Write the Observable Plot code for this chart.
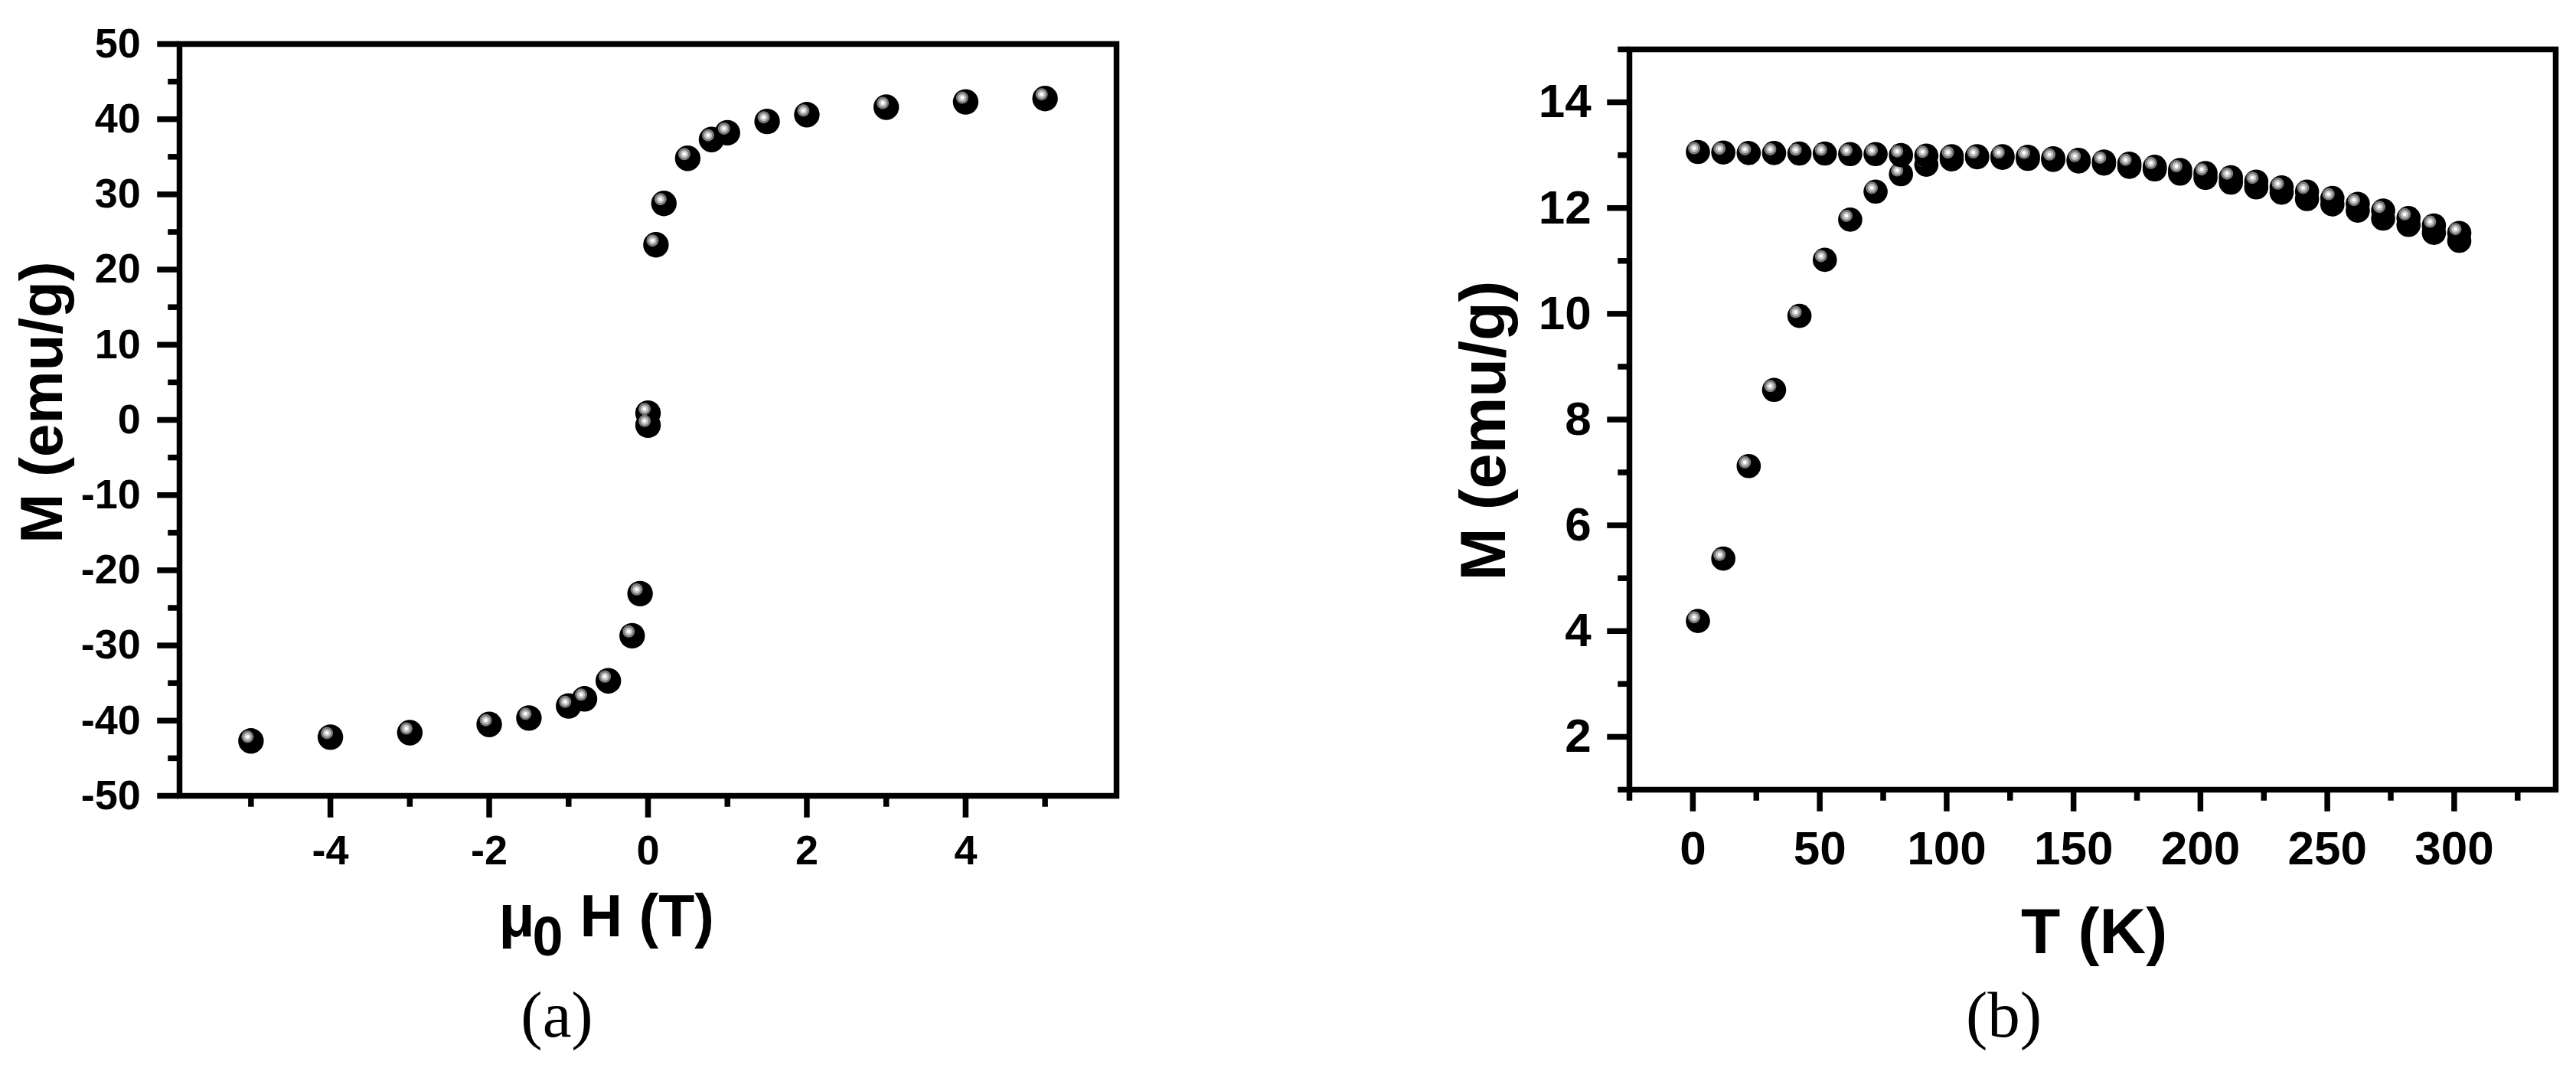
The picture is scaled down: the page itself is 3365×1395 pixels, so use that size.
<!DOCTYPE html>
<html><head><meta charset="utf-8">
<script src="https://cdn.jsdelivr.net/npm/d3@7"></script>
<script src="https://cdn.jsdelivr.net/npm/@observablehq/plot@0.6"></script>
<style>
html,body{margin:0;padding:0;background:#fff;}
#root{position:relative;width:3365px;height:1395px;overflow:hidden;background:#fff;}
#root svg{position:absolute;top:0;overflow:visible;}
</style></head><body><div id="root"></div>
<script>
// Panel (a): hysteresis loop M vs mu0 H
const fieldH = [-5, -4, -3, -2, -1.5, -1, -0.8, -0.5, -0.2, -0.1, 0, 0, 0.1, 0.2, 0.5, 0.8, 1, 1.5, 2, 3, 4, 5];
const magH   = [-42.7, -42.2, -41.6, -40.5, -39.65, -38.05, -37.1, -34.7, -28.7, -23.1, -0.7, 0.9, 23.3, 28.8, 34.8, 37.3, 38.2, 39.7, 40.6, 41.6, 42.3, 42.75];

// Panel (b): M vs T (FC and ZFC)
const tempK = [2, 12, 22, 32, 42, 52, 62, 72, 82, 92, 102, 112, 122, 132, 142, 152, 162, 172, 182, 192, 202, 212, 222, 232, 242, 252, 262, 272, 282, 292, 302];
const magFC  = [13.06, 13.05, 13.04, 13.04, 13.03, 13.03, 13.02, 13.02, 13.00, 12.99, 12.98, 12.98, 12.98, 12.97, 12.94, 12.91, 12.88, 12.84, 12.78, 12.72, 12.66, 12.58, 12.50, 12.39, 12.31, 12.19, 12.08, 11.95, 11.81, 11.67, 11.53];
const magZFC = [4.19, 5.37, 7.12, 8.56, 9.96, 11.02, 11.78, 12.31, 12.64, 12.82, 12.92, 12.96, 12.95, 12.93, 12.91, 12.88, 12.84, 12.78, 12.73, 12.65, 12.57, 12.48, 12.39, 12.29, 12.17, 12.07, 11.95, 11.80, 11.68, 11.53, 11.38];

// Tick values
const xMajorA = [-4, -2, 0, 2, 4];
const xMinorA = [-5, -3, -1, 1, 3, 5];
const yMajorA = [-50, -40, -30, -20, -10, 0, 10, 20, 30, 40, 50];
const yMinorA = [-45, -35, -25, -15, -5, 5, 15, 25, 35, 45];
const xMajorB = [0, 50, 100, 150, 200, 250, 300];
const xMinorB = [-25, 25, 75, 125, 175, 225, 275, 325];
const yMajorB = [2, 4, 6, 8, 10, 12, 14];
const yMinorB = [1, 3, 5, 7, 9, 11, 13, 15];

const SANS = "'Liberation Sans', Arial, Helvetica, sans-serif";
const SERIF = "'Liberation Serif', 'Times New Roman', serif";
const SW = 7.5;

function balls(data, r, hx, hy) {
  return [
    Plot.dot(data, {x: "x", y: "y", r, fill: "black", stroke: "none"}),
    Plot.dot(data, {x: "x", y: "y", r: 8, fill: "#7a7a7a", stroke: "none", dx: hx, dy: hy}),
    Plot.dot(data, {x: "x", y: "y", r: 5.2, fill: "#c2c2c2", stroke: "none", dx: hx, dy: hy}),
    Plot.dot(data, {x: "x", y: "y", r: 2.4, fill: "white", stroke: "none", dx: hx, dy: hy})
  ];
}
function label(text, ax, ay, ml, mt, opts) {
  return Plot.text([text], Object.assign({
    frameAnchor: "top-left", dx: ax - ml, dy: ay - mt,
    fill: "black", lineAnchor: "bottom", textAnchor: "middle"
  }, opts));
}
const fmt = d => String(d);
const blank = () => "";

// ---------- Panel (a)
const mlA = 234, mtA = 57, wA = 1680, hA = 1395, mrA = 1680 - 1458, mbA = 1395 - 1039;
const dataA = fieldH.map((h, i) => ({x: h, y: magH[i]}));
const plotA = Plot.plot({
  width: wA, height: hA,
  marginLeft: mlA, marginRight: mrA, marginTop: mtA, marginBottom: mbA,
  x: {domain: [-5.9, 5.9]},
  y: {domain: [-50, 50]},
  style: {fontFamily: SANS, fontWeight: "bold", fontSize: "54px", color: "black", background: "transparent", overflow: "visible"},
  marks: [
    Plot.axisY(yMinorA, {anchor: "left", tickSize: 14.75, tickFormat: blank, label: null, strokeWidth: SW}),
    Plot.axisY(yMajorA, {anchor: "left", tickSize: 28.75, tickPadding: 22, tickFormat: fmt, label: null, strokeWidth: SW, fontSize: 54}),
    Plot.axisX(xMinorA, {anchor: "bottom", tickSize: 14.75, tickFormat: blank, label: null, strokeWidth: SW}),
    Plot.axisX(xMajorA, {anchor: "bottom", tickSize: 28.75, tickPadding: 22, tickFormat: fmt, label: null, strokeWidth: SW, fontSize: 54}),
    Plot.frame({stroke: "black", strokeWidth: SW}),
    ...balls(dataA, 16.7, -4.5, -5.5),
    label("M (emu/g)", 80, 525, mlA, mtA, {rotate: -90, fontSize: 78, fontFamily: SANS, fontWeight: "bold"}),
    label("\u03bc", 651, 1222, mlA, mtA, {textAnchor: "start", fontSize: 77, fontFamily: SANS, fontWeight: "bold"}),
    label("0", 695, 1247, mlA, mtA, {textAnchor: "start", fontSize: 72, fontFamily: SANS, fontWeight: "bold"}),
    label("H (T)", 757, 1222, mlA, mtA, {textAnchor: "start", fontSize: 77, fontFamily: SANS, fontWeight: "bold"}),
    label("(a)", 727, 1353, mlA, mtA, {fontSize: 85, fontFamily: SERIF, fontWeight: "normal"})
  ]
});
plotA.style.left = "0px";
document.getElementById("root").appendChild(plotA);

// ---------- Panel (b)
const leftB = 1680;
const mlB = 2128 - leftB, mtB = 64, wB = 3365 - leftB, hB = 1395, mrB = 3365 - 3338, mbB = 1395 - 1031;
const dataZFC = tempK.map((t, i) => ({x: t, y: magZFC[i]}));
const dataFC = tempK.map((t, i) => ({x: t, y: magFC[i]}));
const plotB = Plot.plot({
  width: wB, height: hB,
  marginLeft: mlB, marginRight: mrB, marginTop: mtB, marginBottom: mbB,
  x: {domain: [-25, 340]},
  y: {domain: [1, 15]},
  style: {fontFamily: SANS, fontWeight: "bold", fontSize: "62px", color: "black", background: "transparent", overflow: "visible"},
  marks: [
    Plot.axisY(yMinorB, {anchor: "left", tickSize: 14.75, tickFormat: blank, label: null, strokeWidth: SW}),
    Plot.axisY(yMajorB, {anchor: "left", tickSize: 28.75, tickPadding: 21, tickFormat: fmt, label: null, strokeWidth: SW, fontSize: 62}),
    Plot.axisX(xMinorB, {anchor: "bottom", tickSize: 14.75, tickFormat: blank, label: null, strokeWidth: SW}),
    Plot.axisX(xMajorB, {anchor: "bottom", tickSize: 28.75, tickPadding: 25, tickFormat: fmt, label: null, strokeWidth: SW, fontSize: 62}),
    Plot.frame({stroke: "black", strokeWidth: SW}),
    ...balls(dataZFC, 15.8, -5, -5),
    ...balls(dataFC, 15.8, -5, -5),
    label("M (emu/g)", 1965 - leftB, 562, mlB, mtB, {rotate: -90, fontSize: 83, fontFamily: SANS, fontWeight: "bold"}),
    label("T (K)", 2735 - leftB, 1244, mlB, mtB, {fontSize: 84, fontFamily: SANS, fontWeight: "bold"}),
    label("(b)", 2617 - leftB, 1353, mlB, mtB, {fontSize: 85, fontFamily: SERIF, fontWeight: "normal"})
  ]
});
plotB.style.left = leftB + "px";
document.getElementById("root").appendChild(plotB);
</script></body></html>
